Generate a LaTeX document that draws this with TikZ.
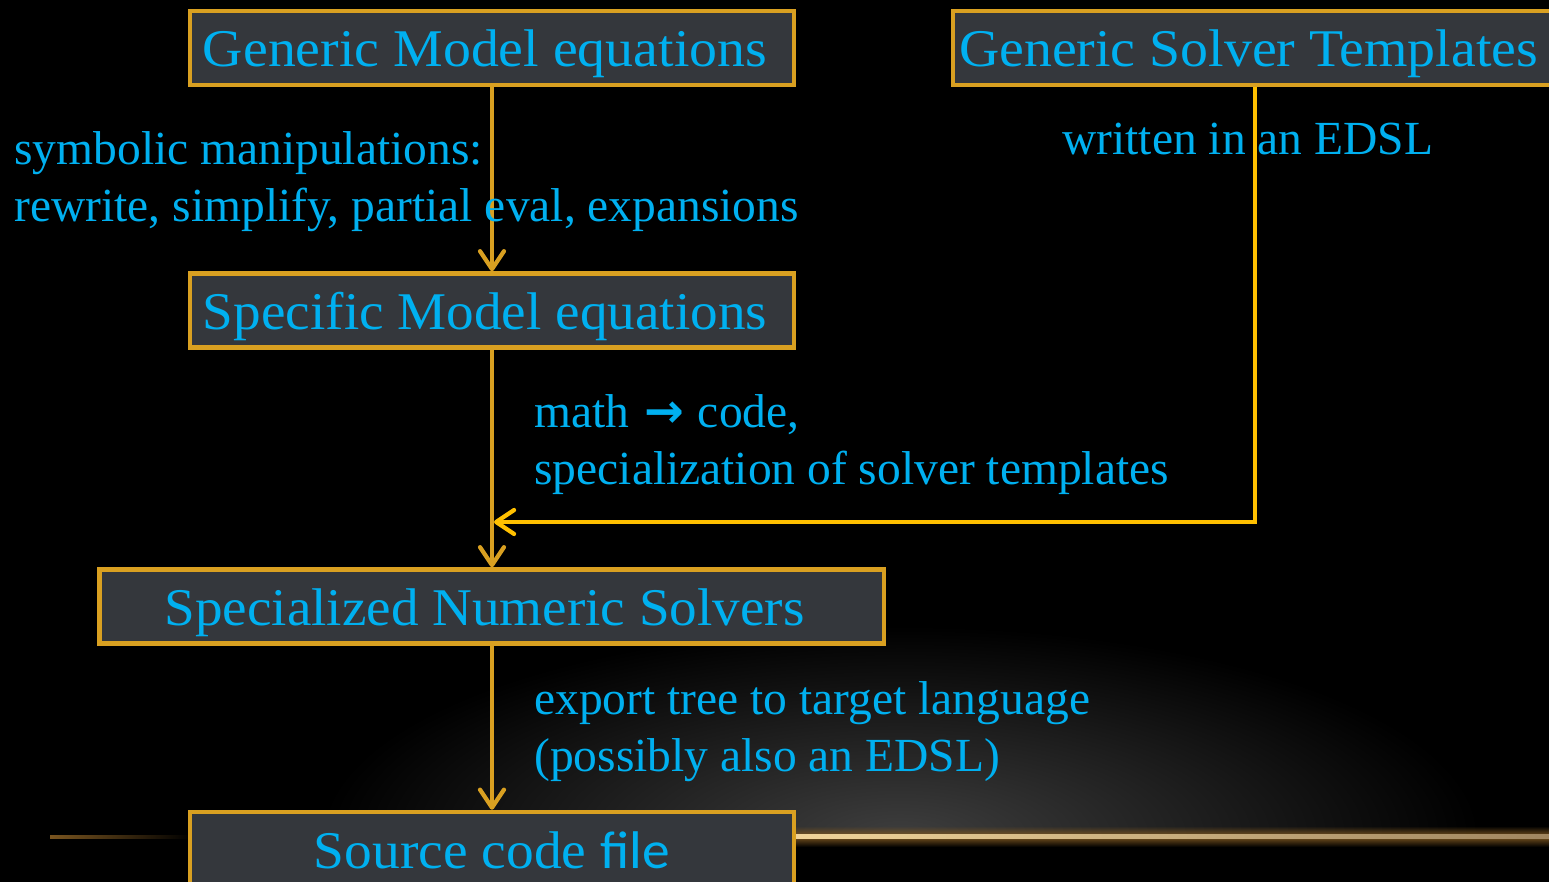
\documentclass[tikz,border=0pt]{standalone}
\usepackage{fontspec}
\usepackage{graphicx}
\setmainfont{Liberation Serif}
\newfontfamily\calfont{Carlito}
\newfontfamily\symfont{DejaVu Sans}
\usetikzlibrary{arrows.meta,fadings}
\definecolor{gold}{HTML}{D9A021}
\definecolor{yel}{HTML}{FFC000}
\definecolor{boxfill}{HTML}{34373C}
\definecolor{txt}{HTML}{00B0F0}
\definecolor{glowgrey}{HTML}{3E3E3E}
\definecolor{linebright}{HTML}{F0D49A}
\definecolor{linedim}{HTML}{A08660}
\definecolor{linebrown}{HTML}{7A5520}
\tikzfading[name=midband, top color=transparent!100, bottom color=transparent!100, middle color=transparent!0]
\tikzset{
  stepbox/.style={draw=gold, line width=2.25pt, fill=boxfill, text=txt, inner sep=0pt,
    minimum height=37pt, text height=20pt, text depth=1pt},
  lbl/.style={anchor=base west, text=txt, inner sep=0pt, font=\fontsize{23.75}{28.5}\selectfont},
  tip/.style={-{Straight Barb[length=9pt,width=12pt,line cap=round,line join=round]}},
  conn/.style={draw=gold, line width=2.1pt, tip},
  tconn/.style={draw=yel, line width=2.1pt, tip}
}
\newcommand{\bt}[2]{\resizebox{#1}{\height}{\fontsize{26.5}{30}\selectfont #2}}
\begin{document}
\begin{tikzpicture}[x=0.5pt,y=-0.5pt]
\useasboundingbox (0,0) rectangle (1549,882);
\clip (0,0) rectangle (1549,882);
\fill[black] (0,0) rectangle (1549,882);
% background glow
\begin{scope}
  \clip (0,0) rectangle (1549,836);
  \shade[inner color=glowgrey, outer color=black] (900,836) ellipse [x radius=580, y radius=210];
\end{scope}
% golden horizon line
\fill[linebrown, path fading=midband] (796,826) rectangle (1549,847);
\shade[left color=linebright, right color=linedim] (796,834.5) rectangle (1549,838.5);
\fill[linebrown, path fading=east] (50,834.5) rectangle (190,838.5);

% boxes
\node[stepbox, minimum width=302pt] (gme) at (492,48) {\bt{282pt}{Generic Model equations}\kern7pt};
\node[stepbox, minimum width=308.5pt] (gst) at (1261.5,48) {\bt{289.5pt}{Generic Solver Templates}\kern13pt};
\node[stepbox, minimum width=302pt] (sme) at (492,310.5) {\bt{282pt}{Specific Model equations}\kern7pt};
\node[stepbox, minimum width=392.25pt] (sns) at (491.5,606.5) {\bt{320pt}{Specialized Numeric Solvers}\kern7pt};
\node[stepbox, minimum width=302pt] (scf) at (492,849) {\bt{178pt}{Source code {\calfont file}}};

% connectors
\coordinate (tcorner) at (1255,522);
\draw[conn] (gme.south) -- (sme.north);
\draw[conn] (sme.south) -- (sme.south |- sns.north);
\draw[conn] (sme.south |- sns.south) -- (scf.north);
\draw[tconn] (gst.south -| tcorner) -- (tcorner) -- ([xshift=1pt]tcorner -| sme.south);

% labels
\node[lbl] (l1a) at (14,165) {symbolic manipulations:};
\node[lbl] (l1b) at (14,222) {rewrite, simplify, partial eval, expansions};
\node[lbl] (l2) at (1062,155) {written in an EDSL};
\node[lbl] (l3a) at (534,428) {math\hspace{1.5pt} {\symfont\bfseries →}\hspace{1pt} code,};
\node[lbl] (l3b) at (534,485) {specialization of solver templates};
\node[lbl] (l4a) at (534,714) {export tree to target language};
\node[lbl] (l4b) at (534,771) {(possibly also an EDSL)};
\end{tikzpicture}
\end{document}
